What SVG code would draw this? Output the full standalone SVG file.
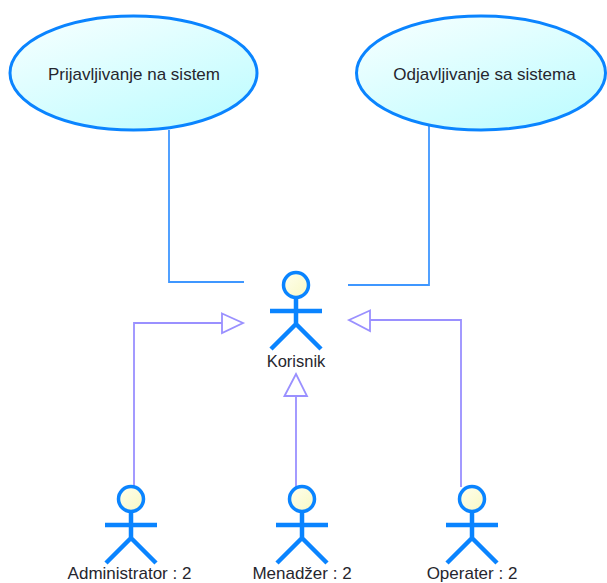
<svg xmlns="http://www.w3.org/2000/svg" xmlns:xlink="http://www.w3.org/1999/xlink" width="607" height="583" viewBox="0 0 607 583">
<style>
text{font-family:"Liberation Sans",Arial,sans-serif;font-size:17px;fill:#26262e;text-anchor:middle}
.uc{fill:url(#g);stroke:#0a84ff;stroke-width:3}
.head{fill:url(#h);stroke:#0a84ff;stroke-width:3.500}
.body{fill:none;stroke:#0a84ff;stroke-width:4.500}
.assoc{fill:none;stroke:#3f97ff;stroke-width:1.800}
.gen{fill:none;stroke:#9a90ff;stroke-width:1.800}
.tri{fill:#fff;stroke:#9a90ff;stroke-width:1.800}
</style>
<defs>
<linearGradient id="g" x1="0.15" y1="0" x2="0.85" y2="1"><stop offset="0" stop-color="#f5ffff"/><stop offset="1" stop-color="#bdfcff"/></linearGradient>
<linearGradient id="h" x1="0" y1="0" x2="1" y2="1"><stop offset="0" stop-color="#ffffee"/><stop offset="1" stop-color="#f8f8c4"/></linearGradient>
<g id="actor">
<circle class="head" cx="0" cy="0" r="12.500"/>
<path class="body" d="M0 13V39M-26 26H26M0 39L-25 64M0 39L25 64"/>
</g>
</defs>
<g id="connectors">
<path class="assoc" d="M169 130V282H244"/>
<path class="assoc" d="M429 126V285H348"/>
<path class="gen" d="M134 487V323H222"/>
<path class="gen" d="M296 487V396"/>
<path class="gen" d="M461 487V320H370"/>
<path class="tri" d="M222 313.500L243 323L222 333Z"/>
<path class="tri" d="M370 310.500L349 320L370 331Z"/>
<path class="tri" d="M284.500 396L296 374L307 396Z"/>
</g>
<g id="usecase1"><ellipse class="uc" cx="133.500" cy="73" rx="123.500" ry="57"/><text x="134" y="80">Prijavljivanje na sistem</text></g>
<g id="usecase2"><ellipse class="uc" cx="481" cy="73" rx="124.500" ry="57"/><text x="484.500" y="80">Odjavljivanje sa sistema</text></g>
<g id="korisnik"><use xlink:href="#actor" href="#actor" x="296" y="285"/><text x="296" y="367" style="font-size:16.500px">Korisnik</text></g>
<g id="administrator"><use xlink:href="#actor" href="#actor" x="131" y="499"/><text x="129.500" y="579">Administrator : 2</text></g>
<g id="menadzer"><use xlink:href="#actor" href="#actor" x="302" y="499"/><text x="302" y="579">Menadžer : 2</text></g>
<g id="operater"><use xlink:href="#actor" href="#actor" x="472" y="499"/><text x="472" y="579">Operater : 2</text></g>
</svg>
